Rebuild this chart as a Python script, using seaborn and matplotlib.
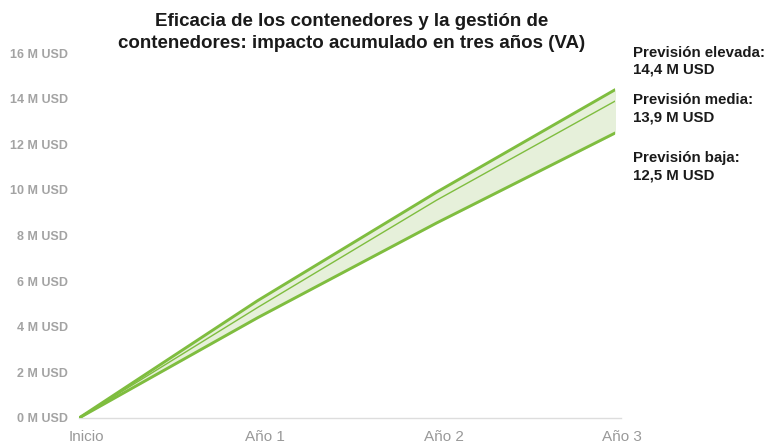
import numpy as np
import pandas as pd
import matplotlib.pyplot as plt
import matplotlib.transforms as mtransforms
import seaborn as sns

# --- data (M USD, cumulative) ---
periods = ["Inicio", "Año 1", "Año 2", "Año 3"]
high = [0, 5.15, 9.9, 14.4]
mid = [0, 4.85, 9.55, 13.9]
low = [0, 4.4, 8.55, 12.5]
y_ticks = [0, 2, 4, 6, 8, 10, 12, 14, 16]
labels = ["Previsión elevada:\n14,4 M USD",
          "Previsión media:\n13,9 M USD",
          "Previsión baja:\n12,5 M USD"]
label_y = [15.65, 13.57, 11.03]

green = "#7fbd3f"
fill_green = "#e6f0da"

sns.set_style("white")
plt.rcParams["font.family"] = ["Liberation Sans", "DejaVu Sans"]

x = np.arange(len(periods))
df = pd.DataFrame({
    "x": np.tile(x, 3),
    "value": high + mid + low,
    "serie": ["alta"] * 4 + ["media"] * 4 + ["baja"] * 4,
})

fig = plt.figure(figsize=(7.68, 4.47), dpi=100)
ax = fig.add_axes([0.103, 0.065, 0.698, 0.816])

ax.fill_between(x, low, high, color=fill_green, zorder=1)
sns.lineplot(data=df, x="x", y="value", hue="serie", size="serie",
             sizes={"alta": 2.1, "media": 1.0, "baja": 2.1},
             palette={"alta": green, "media": green, "baja": green},
             legend=False, ax=ax, zorder=3)

ax.set_xlim(0, 3)
ax.set_ylim(0, 16)
ax.set_yticks(y_ticks)
ax.set_yticklabels([f"{v} M USD" for v in y_ticks])
ax.set_xticks(x)
ax.set_xticklabels(periods)
ax.set_xlabel("")
ax.set_ylabel("")
ax.tick_params(axis="y", labelsize=9, colors="#a3a3a3", length=0, pad=8)
ax.tick_params(axis="x", labelsize=11, colors="#999999", length=0, pad=9)
for lab in ax.get_yticklabels():
    lab.set_fontweight("bold")
shift = mtransforms.ScaledTranslation(7 / 100, 0, fig.dpi_scale_trans)
for lab in ax.get_xticklabels():
    lab.set_transform(lab.get_transform() + shift)

sns.despine(ax=ax, left=True)
ax.spines["bottom"].set_color("#dddddd")
ax.spines["bottom"].set_linewidth(1.0)
ax.spines["bottom"].set_bounds(0, 3.03)

# end labels at the right of the chart
for txt, yy in zip(labels, label_y):
    ax.text(3.1, yy, txt, fontsize=10.8, fontweight="bold", color="#1a1a1a",
            va="center", ha="left", linespacing=1.3, clip_on=False)

fig.text(0.458, 0.928,
         "Eficacia de los contenedores y la gestión de\n"
         "contenedores: impacto acumulado en tres años (VA)",
         ha="center", va="center", fontsize=13.5, fontweight="bold",
         color="#1a1a1a", linespacing=1.4)

fig.savefig("out.png", dpi=100)
